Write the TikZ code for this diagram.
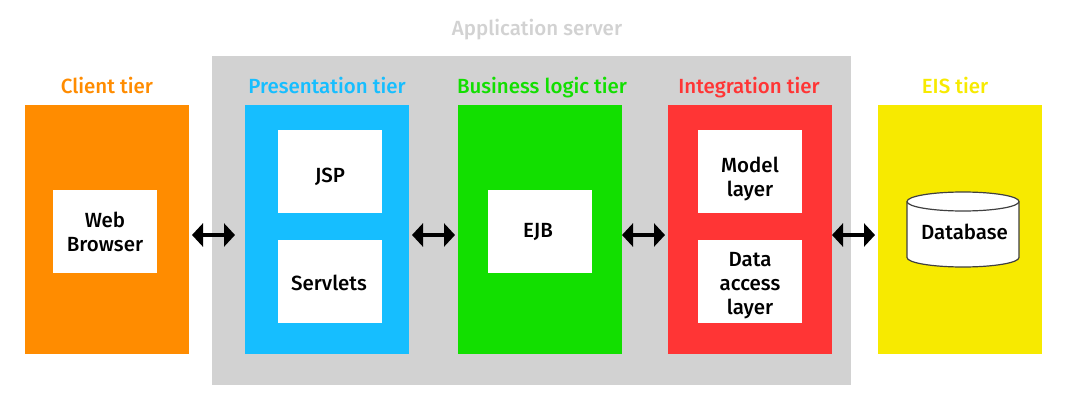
\documentclass[tikz,border=0pt]{standalone}
\usepackage{fontspec}
\setmainfont{Fira Sans Medium}
\usetikzlibrary{arrows.meta}
\definecolor{corange}{HTML}{FF8C00}
\definecolor{cblue}{HTML}{16BEFF}
\definecolor{cgreen}{HTML}{12DF00}
\definecolor{cred}{HTML}{FF3535}
\definecolor{cyellow}{HTML}{F7EA00}
\definecolor{cgray}{HTML}{D2D2D2}
\tikzset{
  x=1pt,y=-1pt,
  area/.style={fill=#1,draw=none,inner sep=0,outer sep=0,minimum width=164pt,minimum height=249pt,anchor=north west},
  inbox/.style={fill=white,draw=none,inner sep=0,outer sep=0,minimum width=104pt,minimum height=83pt,anchor=north west},
  title/.style={text=#1,font=\fontsize{20.5}{24}\selectfont,anchor=base,inner sep=0},
  body/.style={text=black,font=\fontsize{20.5}{24}\selectfont,align=center,inner sep=0},
  dbline/.style={draw=black!75,line width=1.2pt},
  link/.style={draw=black,line width=4.5pt,{Triangle[length=11pt,width=23pt]}-{Triangle[length=11pt,width=23pt]},shorten <=3pt,shorten >=3pt},
}
\begin{document}
\begin{tikzpicture}
\useasboundingbox (0,0) rectangle (1071,415);
\fill[white] (0,0) rectangle (1071,415);
\node[fill=cgray,inner sep=0,outer sep=0,minimum width=639pt,minimum height=329pt,anchor=north west] (server) at (212,56) {};
\node[title=cgray] (servert) at (537,35) {Application server};

\node[area=corange] (client) at (25,105) {};
\node[area=cblue] (pres) at (245,105) {};
\node[area=cgreen] (biz) at (458,105) {};
\node[area=cred] (integ) at (668,105) {};
\node[area=cyellow] (eis) at (878,105) {};

\node[title=corange] (clientt) at (107,93) {Client tier};
\node[title=cblue] (prest) at (327,93) {Presentation tier};
\node[title=cgreen] (bizt) at (542,93) {Business logic tier};
\node[title=cred] (integt) at (749,93) {Integration tier};
\node[title=cyellow] (eist) at (955,93) {EIS tier};

\node[inbox] (web) at (53,190) {};
\node[inbox] (jsp) at (278,130) {};
\node[inbox] (serv) at (278,240) {};
\node[inbox] (ejb) at (488,190) {};
\node[inbox] (model) at (698,130) {};
\node[inbox] (data) at (698,240) {};

\node[body] (webt) at (105,232) {Web\\Browser};
\node[body] (jspt) at (330,177) {JSP};
\node[body] (servt) at (329,283) {Servlets};
\node[body] (ejbt) at (538,232) {EJB};
\node[body] (modelt) at (750,179) {Model\\layer};
\node[body] (datat) at (750,285.5) {Data\\access\\layer};

\path[dbline,fill=white]
  (907,201.5) arc[start angle=180,end angle=0,x radius=56pt,y radius=9.5pt]
  -- (1019,257.5) arc[start angle=0,end angle=-180,x radius=56pt,y radius=9.5pt] -- cycle;
\path[dbline]
  (907,201.5) arc[start angle=180,end angle=360,x radius=56pt,y radius=9.5pt];
\node[body] (dbt) at (964.5,232) {Database};

\draw[link,shorten >=10pt] ([yshift=-5.5pt]client.east) -- ([yshift=-5.5pt]pres.west);
\draw[link] ([yshift=-5.5pt]pres.east) -- ([yshift=-5.5pt]biz.west);
\draw[link,shorten <=0pt] ([yshift=-5.5pt]biz.east) -- ([yshift=-5.5pt]integ.west);
\draw[link,shorten <=0pt] ([yshift=-5.5pt]integ.east) -- ([yshift=-5.5pt]eis.west);
\end{tikzpicture}
\end{document}
